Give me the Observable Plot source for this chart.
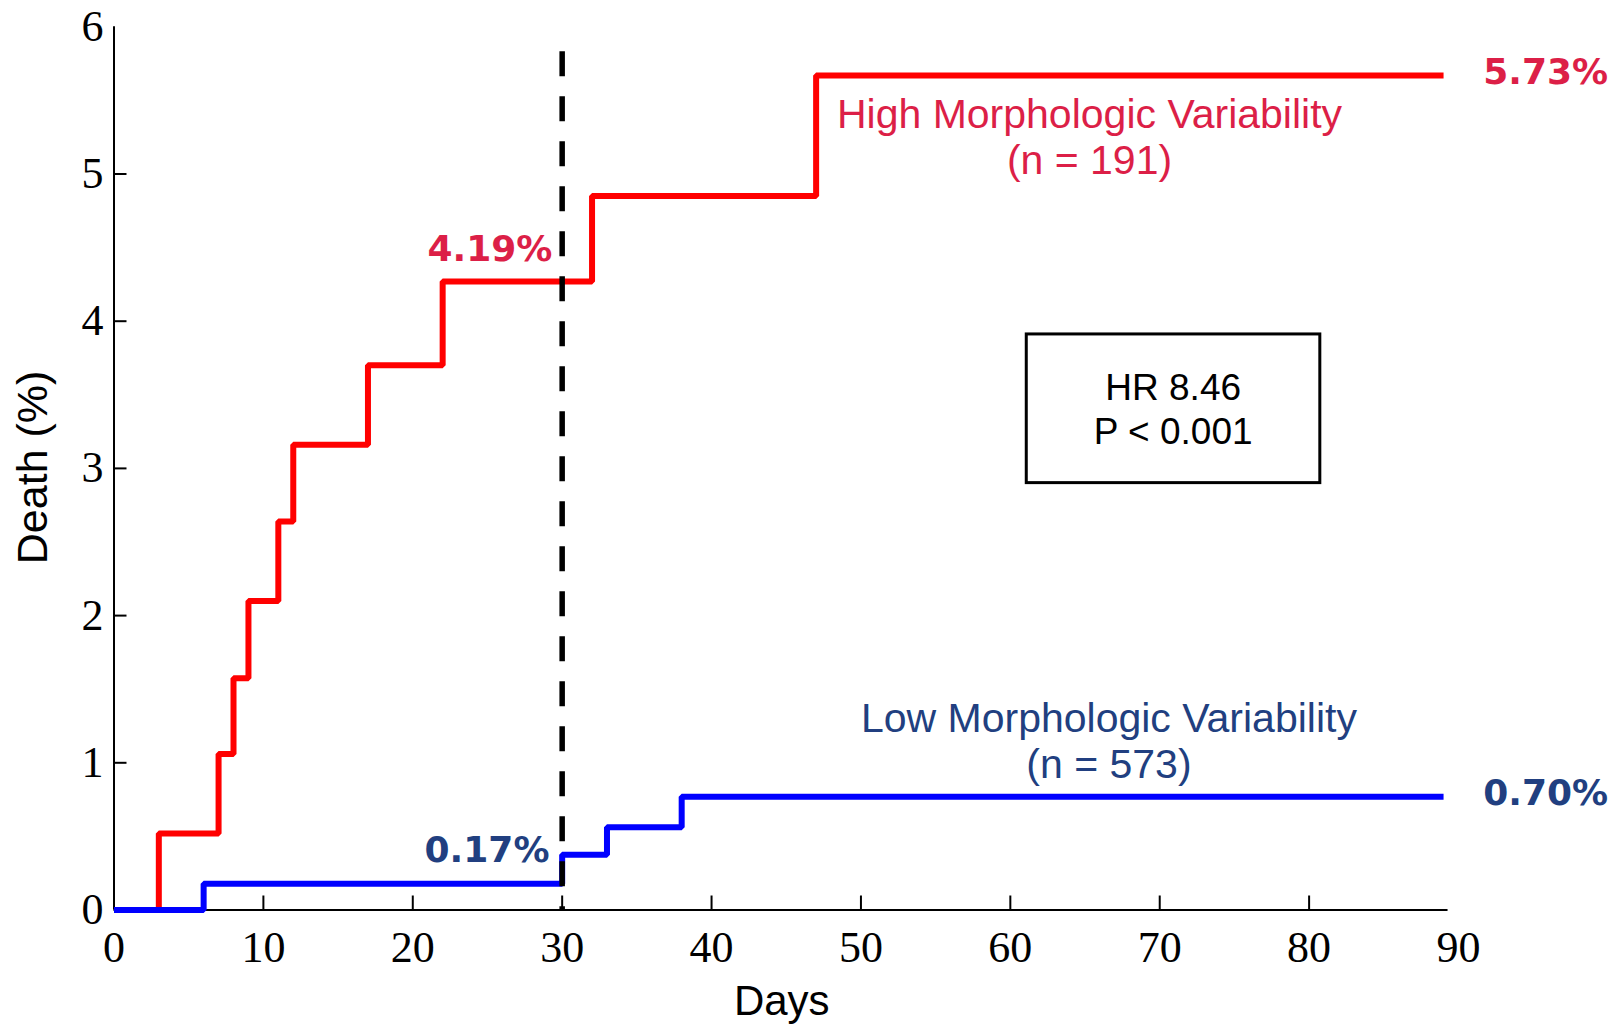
<!DOCTYPE html>
<html>
<head>
<meta charset="utf-8">
<script src="https://cdn.jsdelivr.net/npm/d3@7"></script>
<script src="https://cdn.jsdelivr.net/npm/@observablehq/plot@0.6"></script>
<style>
  html, body { margin: 0; padding: 0; background: #ffffff; }
  #chart svg { display: block; }
</style>
</head>
<body>
<div id="chart"></div>
<script>
// ---- data ----
const highDays  = [0, 3, 7, 8, 9, 11, 12, 17, 22, 32, 47, 89];
const highDeath = [0, 0.52, 1.06, 1.575, 2.10, 2.64, 3.16, 3.70, 4.27, 4.85, 5.67, 5.67];
const lowDays   = [0, 6, 30, 33, 38, 89];
const lowDeath  = [0, 0.178, 0.375, 0.5625, 0.77, 0.77];

const xTickLabels = [0, 10, 20, 30, 40, 50, 60, 70, 80, 90];
const xTickMarks  = [10, 20, 30, 40, 50, 60, 70, 80];
const yTickLabels = [0, 1, 2, 3, 4, 5, 6];
const yTickMarks  = [1, 2, 3, 4, 5];
const xAxisEnd = 89.3;

const landmarkDay = 30;
const landmarkTop = 5.83;

const groupNames  = ["High Morphologic Variability\n(n = 191)", "Low Morphologic Variability\n(n = 573)"];
const groupLabelDay   = [65.3, 66.6];
const groupLabelDeath = [5.255, 1.155];

// end-of-curve labels (left-aligned) and landmark labels (right-aligned)
const endTexts  = ["5.73%", "0.70%"];
const endDay    = [91.66, 91.66];
const endDeath  = [5.69, 0.79];
const endGroup  = ["high", "low"];
const markTexts = ["4.19%", "0.17%"];
const markDay   = [29.35, 29.15];
const markDeath = [4.49, 0.404];
const markGroup = ["high", "low"];

const statsText = "HR 8.46\nP < 0.001";
const statsBox  = {x1: 61.1, x2: 80.75, y1: 2.90, y2: 3.91};
const statsPos  = {day: 70.9, death: 3.41};

// ---- build tables ----
const high = highDays.map((d, i) => ({day: d, death: highDeath[i]}));
const low  = lowDays.map((d, i) => ({day: d, death: lowDeath[i]}));
const groupLabels = groupNames.map((t, i) => ({text: t, day: groupLabelDay[i], death: groupLabelDeath[i], g: i === 0 ? "high" : "low"}));
const endLabels  = endTexts.map((t, i) => ({text: t, day: endDay[i], death: endDeath[i], g: endGroup[i]}));
const markLabels = markTexts.map((t, i) => ({text: t, day: markDay[i], death: markDeath[i], g: markGroup[i]}));

const lineRed = "#ff0000", lineBlue = "#0000ff";
const textRed = "#dc1f47", textBlue = "#213f80";
const sans = "'Liberation Sans', Arial, sans-serif";
const serif = "'Liberation Serif', 'Times New Roman', serif";
const boldSans = "'DejaVu Sans', Verdana, sans-serif";
const groupFill = d => d.g === "high" ? textRed : textBlue;

const chart = Plot.plot({
  width: 1621,
  height: 1026,
  marginLeft: 113.5,
  marginRight: 163,
  marginTop: 26.3,
  marginBottom: 116.5,
  style: {background: "#ffffff", color: "#000000", fontFamily: sans},
  x: {domain: [0, 90], label: null},
  y: {domain: [0, 6], label: null},
  marks: [
    // axis lines
    Plot.ruleX([0], {stroke: "#000", strokeWidth: 2}),
    Plot.ruleY([0], {x1: 0, x2: xAxisEnd, stroke: "#000", strokeWidth: 2}),
    // tick marks (inward)
    Plot.axisX({ticks: xTickMarks, tickSize: -14, fill: "none", stroke: "#000", strokeWidth: 2, label: null}),
    Plot.axisY({ticks: yTickMarks, tickSize: -13, fill: "none", stroke: "#000", strokeWidth: 2, label: null}),
    // tick labels
    Plot.axisX({ticks: xTickLabels, tickFormat: d3.format("d"), tickSize: 0, tickPadding: 21, fontSize: 44, fontFamily: serif, fill: "#000", label: null}),
    Plot.axisY({ticks: yTickLabels, tickFormat: d3.format("d"), tickSize: 0, tickPadding: 10.5, fontSize: 44, fontFamily: serif, fill: "#000", label: null}),
    // axis titles
    Plot.text(["Days"], {frameAnchor: "bottom", textAnchor: "middle", dx: -4.5, dy: 92, fontSize: 42, fontFamily: sans, fill: "#000", lineAnchor: "middle"}),
    Plot.text(["Death (%)"], {frameAnchor: "left", textAnchor: "middle", dx: -81, dy: -1, rotate: -90, fontSize: 43, fontFamily: sans, fill: "#000", lineAnchor: "middle"}),
    // curves
    Plot.line(high, {x: "day", y: "death", curve: "step-after", stroke: lineRed, strokeWidth: 6, strokeLinejoin: "miter", strokeLinecap: "butt"}),
    Plot.line(low, {x: "day", y: "death", curve: "step-after", stroke: lineBlue, strokeWidth: 6, strokeLinejoin: "miter", strokeLinecap: "butt"}),
    // landmark dashed line
    Plot.ruleX([landmarkDay], {y1: landmarkTop, y2: 0, stroke: "#000", strokeWidth: 5.5, strokeDasharray: "25,20"}),
    // group labels
    Plot.text(groupLabels, {x: "day", y: "death", text: "text", fill: groupFill, fontSize: 41, fontFamily: sans, lineHeight: 1.13, textAnchor: "middle"}),
    // percentage labels
    Plot.text(endLabels, {x: "day", y: "death", text: "text", textAnchor: "start", fill: groupFill, fontSize: 36, fontWeight: "bold", fontFamily: boldSans}),
    Plot.text(markLabels, {x: "day", y: "death", text: "text", textAnchor: "end", fill: groupFill, fontSize: 36, fontWeight: "bold", fontFamily: boldSans}),
    // stats box
    Plot.rect([statsBox], {x1: "x1", x2: "x2", y1: "y1", y2: "y2", fill: "#ffffff", stroke: "#000", strokeWidth: 3}),
    Plot.text([statsPos], {x: "day", y: "death", text: () => statsText, fontSize: 37, fontFamily: sans, fill: "#000", lineHeight: 1.2})
  ]
});

document.getElementById("chart").appendChild(chart);
</script>
</body>
</html>
